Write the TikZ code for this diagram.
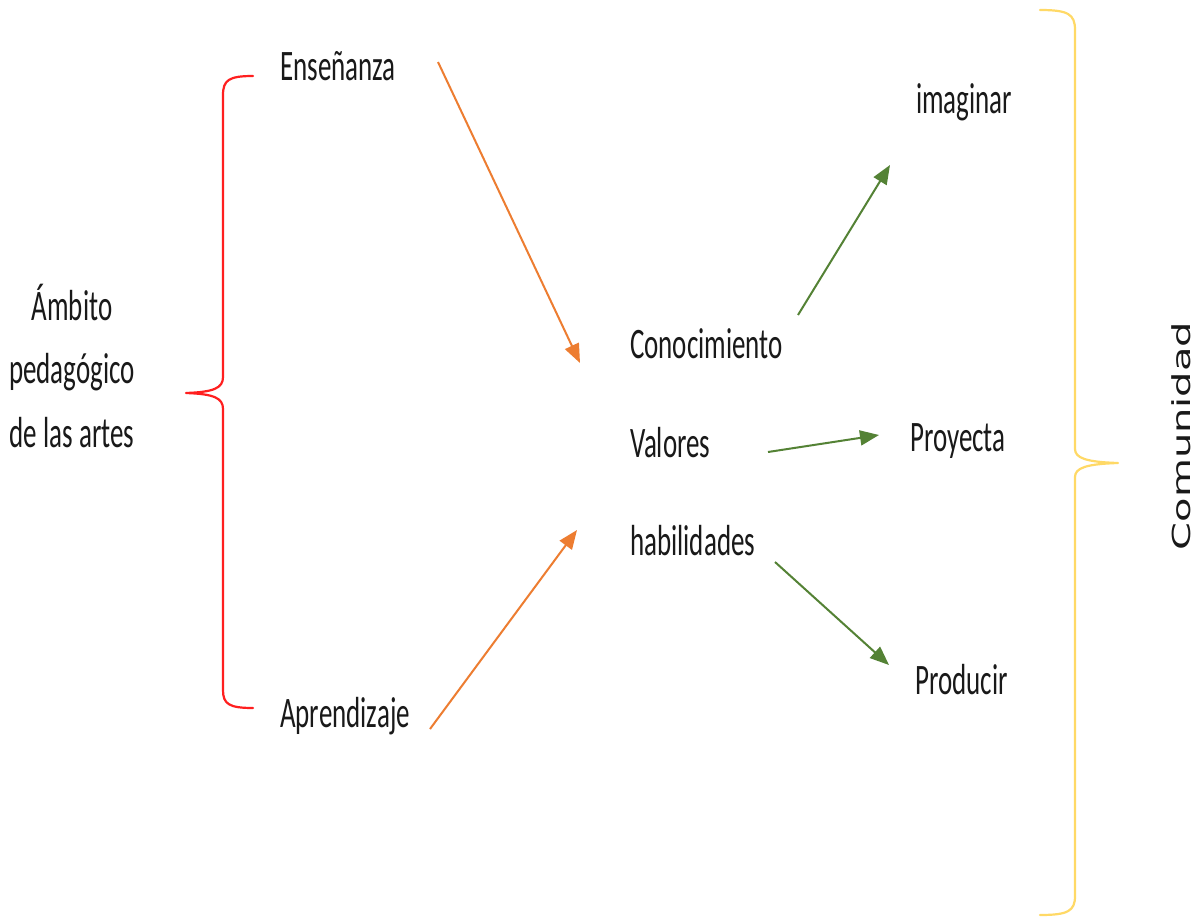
\documentclass[tikz,border=0pt]{standalone}
\usepackage{fontspec}
\usetikzlibrary{arrows.meta}
\newfontfamily\lblfont[FakeStretch=0.62]{Carlito}
\newfontfamily\sidefont{DejaVu Sans}
\definecolor{arrorange}{HTML}{ED7D31}
\definecolor{arrgreen}{HTML}{548235}
\definecolor{bracered}{HTML}{FF1F1F}
\definecolor{braceyellow}{HTML}{FFD966}
\begin{document}
\begin{tikzpicture}[x=1pt,y=-1pt,
  lbl/.style={inner sep=0pt, anchor=base west, font=\lblfont\fontsize{43.5}{63.5}\selectfont, text=black!90},
  arr/.style={line width=2pt, -{Triangle[length=19pt,width=15pt]}},
  orangearr/.style={arr, draw=arrorange},
  greenarr/.style={arr, draw=arrgreen},
  bracepath/.style={line width=2.2pt, line cap=round, line join=round}]
\useasboundingbox (0,0) rectangle (1198,918);
\fill[white] (0,0) rectangle (1198,918);

% labels
\node[lbl, anchor=base, align=center] (ambito) at (72,447) {Ámbito\\pedagógico\\de las artes};
\node[lbl] (ens) at (280,80) {Enseñanza};
\node[lbl] (apr) at (280,727) {Aprendizaje};
\node[lbl] (con) at (630,358) {Conocimiento};
\node[lbl] (val) at (630,457) {Valores};
\node[lbl] (hab) at (630,555) {habilidades};
\node[lbl] (ima) at (916,113) {imaginar};
\node[lbl] (pro) at (910,451) {Proyecta};
\node[lbl] (prd) at (915,694) {Producir};
\node[inner sep=0pt, rotate=90, text=black!90] (com) at (1181,436)
  {\scalebox{1}[0.62]{\sidefont\fontsize{40}{48}\selectfont Comunidad}};

% connector end points
\coordinate (e1) at (438,62);   \coordinate (e2) at (580,363);
\coordinate (a1) at (430,729);  \coordinate (a2) at (577,530);
\coordinate (c1) at (798,315);  \coordinate (c2) at (890,165);
\coordinate (v1) at (768,452);  \coordinate (v2) at (879,435);
\coordinate (h1) at (775,562);  \coordinate (h2) at (889,665);

\draw[orangearr] (e1) -- (e2);
\draw[orangearr] (a1) -- (a2);
\draw[greenarr] (c1) -- (c2);
\draw[greenarr] (v1) -- (v2);
\draw[greenarr] (h1) -- (h2);

% red brace
\draw[bracepath, draw=bracered]
  (253,76) .. controls (229,76) and (223,80) .. (223,95)
  -- (223,377) .. controls (223,388) and (214,392) .. (186,393)
  .. controls (214,394) and (223,398) .. (223,409)
  -- (223,690) .. controls (223,704) and (229,708) .. (253,708);

% yellow brace
\draw[bracepath, draw=braceyellow]
  (1040,10) .. controls (1068,10) and (1075,14) .. (1075,30)
  -- (1075,449) .. controls (1075,458) and (1086,462) .. (1118,463)
  .. controls (1086,464) and (1075,468) .. (1075,477)
  -- (1075,896) .. controls (1075,911) and (1068,915) .. (1040,915);
\end{tikzpicture}
\end{document}
